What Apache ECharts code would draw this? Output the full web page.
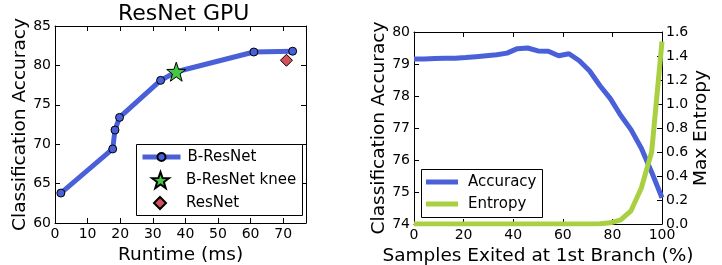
<!DOCTYPE html>
<html>
<head>
<meta charset="utf-8">
<script src="https://cdn.jsdelivr.net/npm/echarts@6/dist/echarts.min.js"></script>
<style>html,body{margin:0;padding:0;background:#fff}#c{width:722px;height:265px}</style>
</head>
<body>
<div id="c"></div>
<script>
// Left chart: ResNet GPU
const bRuntime = [1.8, 17.7, 18.4, 19.8, 32.4, 37.2, 61.0, 72.9];
const bAccuracy = [63.8, 69.4, 71.8, 73.4, 78.1, 79.2, 81.7, 81.8];
const kneeRuntime = [37.2];
const kneeAccuracy = [79.2];
const resnetRuntime = [71.0];
const resnetAccuracy = [80.65];

// Right chart: samples exited at first branch
const exitedPct = [0, 4.17, 8.33, 12.5, 16.67, 20.83, 25, 29.17, 33.33, 37.5, 41.67, 45.83, 50, 54.17, 58.33, 62.5, 66.67, 70.83, 75, 79.17, 83.33, 87.5, 91.67, 95.83, 100];
const exitAccuracy = [79.16, 79.16, 79.17, 79.18, 79.18, 79.2, 79.23, 79.26, 79.29, 79.34, 79.48, 79.5, 79.41, 79.4, 79.26, 79.32, 79.1, 78.78, 78.32, 77.92, 77.4, 76.95, 76.37, 75.62, 74.82];
const exitEntropy = [0, 0, 0, 0, 0, 0, 0, 0, 0, 0, 0, 0, 0, 0, 0, 0, 0, 0, 0.003, 0.01, 0.035, 0.11, 0.3, 0.6, 1.52];

const FONT = 'DejaVu Sans';
const BLUE = '#4a60d8';
const GREEN = '#a8d040';

const chart = echarts.init(document.getElementById('c'), null, {renderer: 'canvas'});

function axisBase(extra) {
  return Object.assign({
    axisLine: {show: true, onZero: false, lineStyle: {color: '#000', width: 1}},
    axisTick: {show: true, inside: true, length: 5, lineStyle: {color: '#000', width: 1}},
    splitLine: {show: false},
    axisLabel: {show: true, color: '#000', fontFamily: FONT, fontSize: 14, margin: 4},
    nameTextStyle: {color: '#000', fontFamily: FONT, fontSize: 18.5},
    nameLocation: 'middle'
  }, extra);
}
function hiddenLabels(o) {
  o.axisLabel = {show: false};
  return o;
}

const lineData = bRuntime.map((x, i) => {
  const isKnee = kneeRuntime.indexOf(x) >= 0;
  return isKnee ? {value: [x, bAccuracy[i]], symbol: 'none'} : [x, bAccuracy[i]];
});

const starPath = 'path://M0,-10L2.35,-3.24L9.51,-3.09L3.8,1.24L5.88,8.09L0,4L-5.88,8.09L-3.8,1.24L-9.51,-3.09L-2.35,-3.24Z';
const diamondPath = 'path://M0,-1L1,0L0,1L-1,0Z';

function lt(padLeft) {
  return {color: '#000', fontFamily: FONT, fontSize: 15, lineHeight: 18, padding: [0, 0, 0, padLeft]};
}

const option = {
  backgroundColor: '#fff',
  animation: false,
  title: {
    text: 'ResNet GPU', left: 118, top: 3, padding: 0,
    textStyle: {color: '#000', fontFamily: FONT, fontSize: 22, fontWeight: 'normal'}
  },
  grid: [
    {left: 55, top: 26, right: 416, bottom: 42, containLabel: false, outerBoundsMode: 'none'},
    {left: 414, top: 32, right: 60, bottom: 41, containLabel: false, outerBoundsMode: 'none'}
  ],
  xAxis: [
    axisBase({type: 'value', gridIndex: 0, position: 'bottom', min: 0, max: 77, interval: 10,
      name: 'Runtime (ms)', nameGap: 14,
      axisLabel: {color: '#000', fontFamily: FONT, fontSize: 14, margin: 4, showMaxLabel: false}}),
    hiddenLabels(axisBase({type: 'value', gridIndex: 0, position: 'top', min: 0, max: 77, interval: 10})),
    axisBase({type: 'value', gridIndex: 1, position: 'bottom', min: 0, max: 100, interval: 20,
      name: 'Samples Exited at 1st Branch (%)', nameGap: 17}),
    hiddenLabels(axisBase({type: 'value', gridIndex: 1, position: 'top', min: 0, max: 100, interval: 20}))
  ],
  yAxis: [
    axisBase({type: 'value', gridIndex: 0, position: 'left', min: 60, max: 85, interval: 5,
      name: 'Classification Accuracy', nameGap: 23}),
    hiddenLabels(axisBase({type: 'value', gridIndex: 0, position: 'right', min: 60, max: 85, interval: 5})),
    axisBase({type: 'value', gridIndex: 1, position: 'left', min: 74, max: 80, interval: 1,
      name: 'Classification Accuracy', nameGap: 21}),
    axisBase({type: 'value', gridIndex: 1, position: 'right', min: 0, max: 1.6, interval: 0.2,
      name: 'Max Entropy', nameGap: 26,
      axisLabel: {color: '#000', fontFamily: FONT, fontSize: 14, margin: 4, formatter: v => v.toFixed(1)}})
  ],
  legend: [
    {data: ['B-ResNet'], left: 140, top: 148, padding: 0, itemWidth: 38, itemHeight: 10,
      lineStyle: {width: 5}, textStyle: lt(2), selectedMode: false, z: 10},
    {data: [{name: 'B-ResNet knee', icon: starPath}], left: 151, top: 171, padding: 0, itemWidth: 17, itemHeight: 17,
      textStyle: lt(12), selectedMode: false, z: 10},
    {data: [{name: 'ResNet', icon: diamondPath}], left: 153, top: 194, padding: 0, itemWidth: 12, itemHeight: 12,
      textStyle: lt(15), selectedMode: false, z: 10},
    {data: [{name: 'Accuracy', icon: 'rect'}], left: 426, top: 173, padding: 0, itemWidth: 32, itemHeight: 5,
      textStyle: lt(5), selectedMode: false, z: 10},
    {data: [{name: 'Entropy', icon: 'rect'}], left: 426, top: 195, padding: 0, itemWidth: 32, itemHeight: 5,
      textStyle: lt(5), selectedMode: false, z: 10}
  ],
  graphic: [
    {type: 'rect', z: 5, shape: {x: 136.5, y: 144.5, width: 166, height: 71}, style: {fill: '#fff', stroke: '#000', lineWidth: 1}},
    {type: 'rect', z: 5, shape: {x: 421.5, y: 169.5, width: 121, height: 48}, style: {fill: '#fff', stroke: '#000', lineWidth: 1}}
  ],
  series: [
    {
      name: 'B-ResNet', type: 'line', xAxisIndex: 0, yAxisIndex: 0,
      data: lineData, symbol: 'circle', symbolSize: 8, showSymbol: true,
      lineStyle: {color: BLUE, width: 5},
      itemStyle: {color: BLUE, borderColor: '#000', borderWidth: 1},
      z: 2
    },
    {
      name: 'B-ResNet knee', type: 'scatter', xAxisIndex: 0, yAxisIndex: 0,
      data: kneeRuntime.map((x, i) => [x, kneeAccuracy[i]]),
      symbol: starPath, symbolSize: 19,
      itemStyle: {color: '#44c944', borderColor: '#000', borderWidth: 1, opacity: 1},
      z: 3
    },
    {
      name: 'ResNet', type: 'scatter', xAxisIndex: 0, yAxisIndex: 0,
      data: resnetRuntime.map((x, i) => [x, resnetAccuracy[i]]),
      symbol: diamondPath, symbolSize: 12,
      itemStyle: {color: '#d6505a', borderColor: '#000', borderWidth: 1, opacity: 1},
      z: 3
    },
    {
      name: 'Accuracy', type: 'line', xAxisIndex: 2, yAxisIndex: 2,
      data: exitedPct.map((x, i) => [x, exitAccuracy[i]]),
      symbol: 'none', lineStyle: {color: BLUE, width: 5}, itemStyle: {color: BLUE}, z: 2
    },
    {
      name: 'Entropy', type: 'line', xAxisIndex: 2, yAxisIndex: 3,
      data: exitedPct.map((x, i) => [x, exitEntropy[i]]),
      symbol: 'none', lineStyle: {color: GREEN, width: 5}, itemStyle: {color: GREEN}, z: 2
    }
  ]
};
chart.setOption(option);
</script>
</body>
</html>
